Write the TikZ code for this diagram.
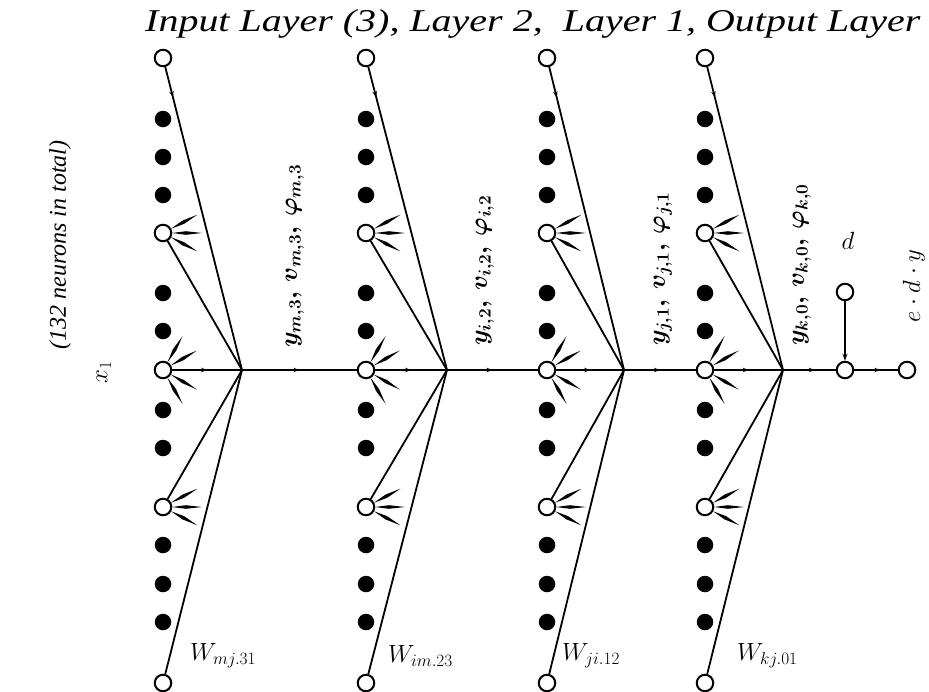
\documentclass[tikz,border=0pt]{standalone}
\usepackage{fontspec}
\setmainfont{Liberation Serif}
\usepackage{amsmath}
\usepackage{graphicx}
\usetikzlibrary{arrows.meta,calc,decorations.markings}
\newcommand\myray[2]{%
  \fill ($(#1.center)+(#2:9)$) -- ($(#1.center)+(#2-4.5:23)$) -- ($(#1.center)+(#2:39)$) -- ($(#1.center)+(#2+4.5:23)$) -- cycle;}
\begin{document}
\begin{tikzpicture}[x=1pt,y=-1pt,
  neuron/.style={circle,draw,fill=white,line width=2pt,minimum size=16.5pt,inner sep=0pt},
  blackdot/.style={circle,fill=black,minimum size=16.5pt,inner sep=0pt},
  wire/.style={line width=1.8pt},
  midarr/.style={postaction={decorate},decoration={markings,mark=at position #1 with {\arrow{Stealth[length=6pt,width=4.5pt]}}}},
  lab/.style={font=\fontsize{24}{24}\selectfont},
]
\useasboundingbox (0,0) rectangle (929,691);

% title
\node[anchor=base west,inner sep=0pt] (title) at (145,31)
  {\resizebox{775pt}{22pt}{\itshape Input Layer (3), Layer 2,~~Layer 1, Output Layer}};

% columns
\foreach \c/\x/\h in {1/163/242, 2/366/447, 3/547/624, 4/705/783} {
  \coordinate (h\c) at (\h,370);
  \foreach \k/\y in {1/119,2/157,3/195,4/293,5/331,6/410,7/448,8/545,9/584,10/622}
    \node[blackdot] (b\c-\k) at (\x,\y) {};
  \foreach \r/\y in {1/58,2/233,3/370,4/507,5/683}
    \node[neuron] (n\c-\r) at (\x,\y) {};
  \draw[wire,midarr=0.1] (n\c-1) -- (h\c);
  \foreach \r in {2,4,5}
    \draw[wire] (n\c-\r) -- (h\c);
  \draw[wire,midarr=0.5] (n\c-3) -- (h\c);
  \foreach \a in {-28,0,28} {\myray{n\c-2}{\a} \myray{n\c-4}{\a}}
  \foreach \a in {-60,-30,30,60} {\myray{n\c-3}{\a}}
}

% output part
\node[neuron] (S) at (845,370) {};
\node[neuron] (D) at (845,292) {};
\node[neuron] (O) at (907,370) {};

% horizontal chain
\draw[wire,midarr=0.5] (h1) -- (n2-3);
\draw[wire,midarr=0.5] (h2) -- (n3-3);
\draw[wire,midarr=0.5] (h3) -- (n4-3);
\draw[wire,midarr=0.6] (h4) -- (S);
\draw[wire,midarr=0.6] (S) -- (O);
\draw[wire,-{Stealth[length=7pt,width=5pt]}] (D) -- (S);

% labels between layers
\node[lab,rotate=90,anchor=west,inner sep=0pt] (l1) at (295,348) {$\boldsymbol{y_{m,3},\,v_{m,3},\,\varphi_{m,3}}$};
\node[lab,rotate=90,anchor=west,inner sep=0pt] (l2) at (485,346) {$\boldsymbol{y_{i,2},\,v_{i,2},\,\varphi_{i,2}}$};
\node[lab,rotate=90,anchor=west,inner sep=0pt] (l3) at (663,346) {$\boldsymbol{y_{j,1},\,v_{j,1},\,\varphi_{j,1}}$};
\node[lab,rotate=90,anchor=west,inner sep=0pt] (l4) at (802,346) {$\boldsymbol{y_{k,0},\,v_{k,0},\,\varphi_{k,0}}$};

% left labels
\node[rotate=90,font=\itshape\fontsize{24}{24}\selectfont] (total) at (60,245) {(132 neurons in total)};
\node[rotate=90,font=\fontsize{25}{25}\selectfont] (x1) at (104,372) {$x_1$};

% output labels
\node[font=\fontsize{27}{27}\selectfont] (dl) at (848,241) {$d$};
\node[rotate=90,font=\fontsize{28}{28}\selectfont] (edy) at (914,286) {$e\cdot d\cdot y$};

% weight labels
\node[anchor=west,inner sep=0pt,font=\fontsize{26}{26}\selectfont] (w1) at (190,656) {$W_{mj.31}$};
\node[anchor=west,inner sep=0pt,font=\fontsize{26}{26}\selectfont] (w2) at (388,656) {$W_{im.23}$};
\node[anchor=west,inner sep=0pt,font=\fontsize{26}{26}\selectfont] (w3) at (562,656) {$W_{ji.12}$};
\node[anchor=west,inner sep=0pt,font=\fontsize{26}{26}\selectfont] (w4) at (737,656) {$W_{kj.01}$};
\end{tikzpicture}
\end{document}
